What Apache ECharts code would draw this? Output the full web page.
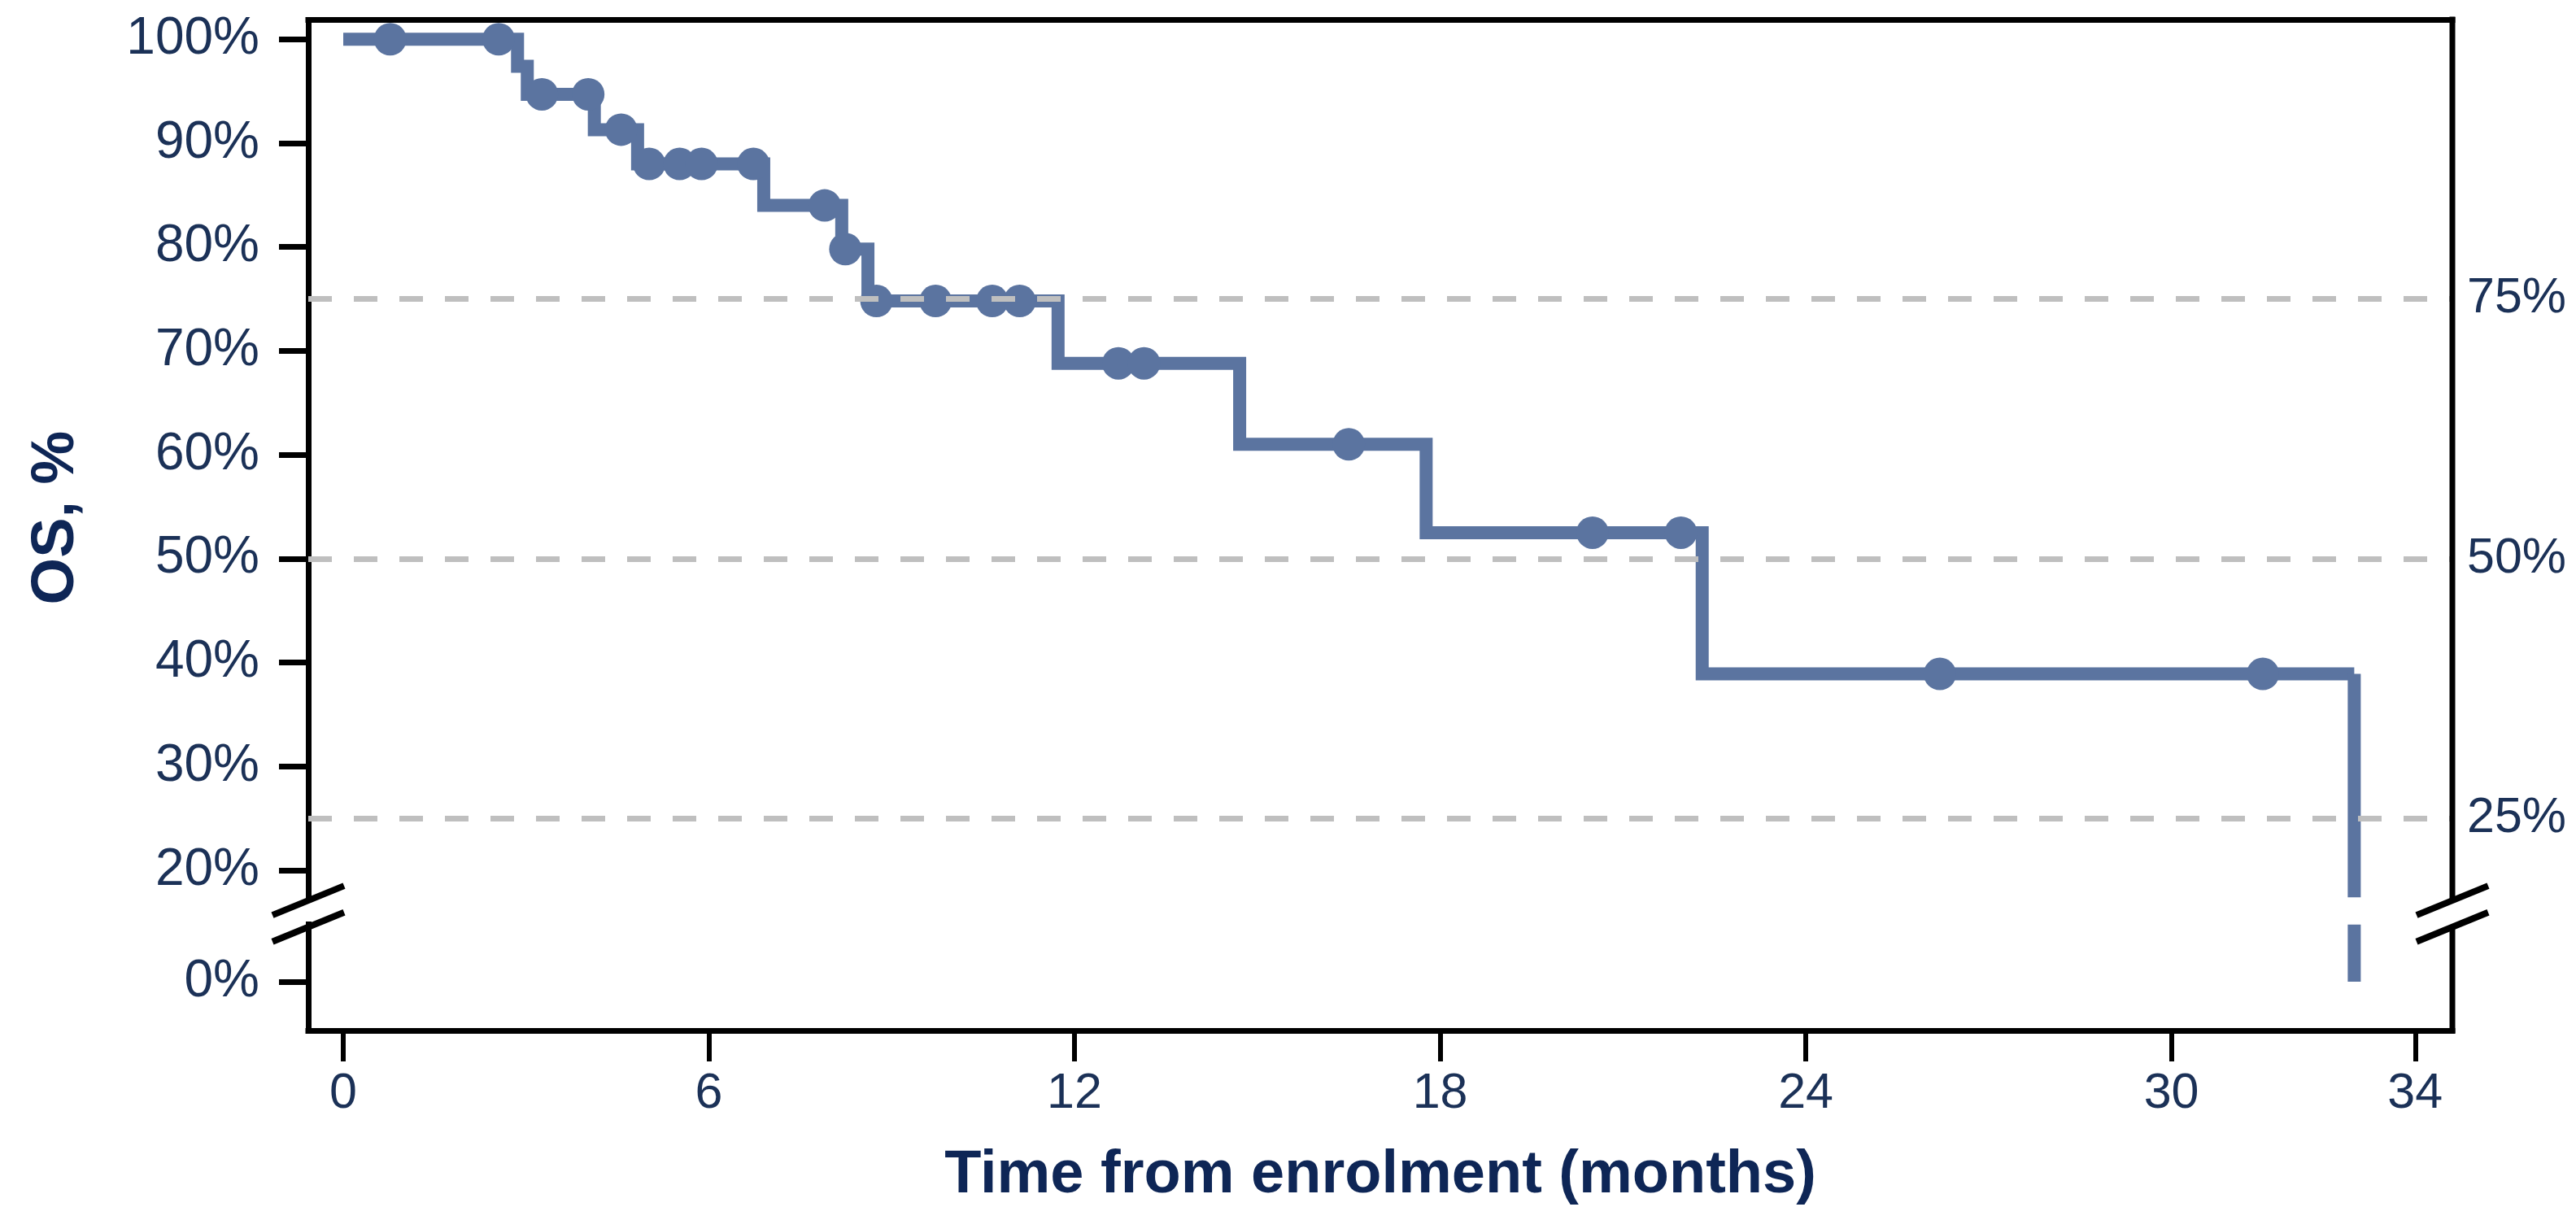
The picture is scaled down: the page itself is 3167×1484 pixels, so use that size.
<!DOCTYPE html>
<html>
<head>
<meta charset="utf-8">
<script src="https://cdn.jsdelivr.net/npm/echarts@6/dist/echarts.min.js"></script>
<style>
  html, body { margin: 0; padding: 0; background: #ffffff; }
  #chart { width: 3167px; height: 1484px; }
</style>
</head>
<body>
<div id="chart"></div>
<script>
// Kaplan–Meier estimate of overall survival: event times (months) and survival after each event (%)
const eventMonths = [0, 2.86, 3.02, 4.12, 4.83, 6.9, 8.18, 8.61, 11.73, 14.71, 17.77, 22.3, 33.0];
const survivalPct = [100, 97.4, 94.7, 91.3, 88.0, 84.0, 79.8, 74.8, 68.8, 61.0, 52.5, 38.9, 0];

// Censored patients (months, survival level at censoring)
const censorMonths = [0.77, 2.55, 3.26, 4.02, 4.56, 5.02, 5.52, 5.88, 6.73, 7.9, 8.24, 8.75, 9.72, 10.65, 11.1, 12.72, 13.14, 16.5, 20.5, 21.95, 26.2, 31.5];
const censorPct = [100, 100, 94.7, 94.7, 91.3, 88.0, 88.0, 88.0, 88.0, 84.0, 79.8, 74.8, 74.8, 74.8, 74.8, 68.8, 68.8, 61.0, 52.5, 52.5, 38.9, 38.9];

// Axis ticks and quartile reference lines
const xTicks = [0, 6, 12, 18, 24, 30, 34];
const yTicks = [0, 20, 30, 40, 50, 60, 70, 80, 90, 100];
const quartileLines = [25, 50, 75];

const X_MIN = -0.574, X_MAX = 34.61;
const Y_MIN = -4.7, Y_MAX = 101.9;
const Y_BREAK = { start: 5.5, end: 17.4, gap: '2.7%' };

const CURVE = '#5b74a0';
const TEXT = '#1b3157';
const TITLE = '#0e2656';
const FONT = '"Liberation Sans", Arial, Helvetica, sans-serif';

// Step curve: carry the last level to the final event; the final drop is drawn separately
const n = eventMonths.length;
const stepData = eventMonths.slice(0, n - 1).map((t, i) => [t, survivalPct[i]]);
stepData.push([eventMonths[n - 1], survivalPct[n - 2]]);
const lastT = eventMonths[n - 1];
const finalDrop = [
  [lastT, survivalPct[n - 2]], [lastT, Y_BREAK.end],
  [lastT, '-'],
  [lastT, Y_BREAK.start], [lastT, survivalPct[n - 1]]
];
const censorData = censorMonths.map((t, i) => [t, censorPct[i]]);

const chart = echarts.init(document.getElementById('chart'), null, { renderer: 'canvas' });

const blackLine = { color: '#000', width: 7, cap: 'square' };

const option = {
  backgroundColor: '#ffffff',
  animation: false,
  textStyle: { fontFamily: FONT },
  grid: { left: 379, right: 152, top: 24, bottom: 217, outerBoundsMode: 'none', containLabel: false },
  xAxis: [
    {
      type: 'value', min: X_MIN, max: X_MAX, position: 'bottom',
      name: 'Time from enrolment (months)', nameLocation: 'middle', nameGap: 142,
      nameTextStyle: { fontFamily: FONT, fontSize: 74, fontWeight: 'bold', color: TITLE },
      axisLine: { show: true, onZero: false, lineStyle: blackLine },
      axisTick: { show: true, inside: false, length: 38, customValues: xTicks, lineStyle: { color: '#000', width: 6 } },
      axisLabel: { show: true, customValues: xTicks, margin: 48, fontFamily: FONT, fontSize: 61, color: TEXT },
      splitLine: { show: false }
    },
    {
      type: 'value', min: X_MIN, max: X_MAX, position: 'top',
      axisLine: { show: true, onZero: false, lineStyle: blackLine },
      axisTick: { show: false }, axisLabel: { show: false }, splitLine: { show: false }
    }
  ],
  yAxis: [
    {
      type: 'value', min: Y_MIN, max: Y_MAX, position: 'left',
      breaks: [Y_BREAK], breakArea: { show: false },
      name: 'OS, %', nameLocation: 'middle', nameRotate: 90, nameGap: 272,
      nameTextStyle: { fontFamily: FONT, fontSize: 74, fontWeight: 'bold', color: TITLE, padding: [0, 0, 0, 18] },
      axisLine: { show: true, onZero: false, lineStyle: blackLine },
      axisTick: { show: true, inside: false, length: 36, customValues: yTicks, lineStyle: { color: '#000', width: 7 } },
      axisLabel: { show: true, customValues: yTicks, margin: 60, fontFamily: FONT, fontSize: 64, color: TEXT,
        formatter: v => v + '%' },
      splitLine: { show: false }
    },
    {
      type: 'value', min: Y_MIN, max: Y_MAX, position: 'right',
      breaks: [Y_BREAK], breakArea: { show: false },
      axisLine: { show: false },
      axisTick: { show: false },
      axisLabel: { show: true, customValues: quartileLines, margin: 18, fontFamily: FONT, fontSize: 61, color: TEXT,
        padding: [18, 0, 0, 0], formatter: v => v + '%' },
      splitLine: { show: false }
    }
  ],
  series: [
    {
      name: 'quartiles', type: 'line', data: [], xAxisIndex: 0, yAxisIndex: 0,
      markLine: {
        silent: true, symbol: 'none', label: { show: false },
        lineStyle: { color: '#bfbfbf', width: 7, type: [29, 27] },
        data: quartileLines.map(v => ({ yAxis: v }))
      },
      z: 1
    },
    {
      name: 'OS', type: 'line', step: 'end', data: stepData, showSymbol: false, symbol: 'none',
      lineStyle: { color: CURVE, width: 16, join: 'miter', cap: 'butt' }, z: 3
    },
    {
      name: 'OS final', type: 'line', data: finalDrop, showSymbol: false, symbol: 'none', connectNulls: false,
      lineStyle: { color: CURVE, width: 16, cap: 'butt' }, z: 3
    },
    {
      name: 'Censored', type: 'scatter', data: censorData, symbol: 'circle', symbolSize: 40,
      itemStyle: { color: CURVE, opacity: 1 }, z: 4
    }
  ]
};

chart.setOption(option);

// Frame on the right with its break, and the break marks on both vertical axes
function drawBreakMarks() {
  const px = v => chart.convertToPixel({ xAxisIndex: 0 }, v);
  const py = v => chart.convertToPixel({ yAxisIndex: 0 }, v);
  const left = px(X_MIN), right = px(X_MAX);
  const top = py(Y_MAX), bottom = py(Y_MIN);
  const yUpper = py(Y_BREAK.end) + 4;
  const yLower = py(Y_BREAK.start) + 3;
  const hx = 44, hy = 18;
  const stroke = { stroke: '#000', lineWidth: 8 };
  const slash = (x, y) => ({ type: 'line', z: 100, shape: { x1: x - hx, y1: y + hy, x2: x + hx, y2: y - hy }, style: stroke });
  chart.setOption({
    graphic: [
      { type: 'line', z: 100, shape: { x1: right, y1: top - 3.5, x2: right, y2: yUpper }, style: { stroke: '#000', lineWidth: 7 } },
      { type: 'line', z: 100, shape: { x1: right, y1: yLower, x2: right, y2: bottom + 3.5 }, style: { stroke: '#000', lineWidth: 7 } },
      slash(left, yUpper), slash(left, yLower),
      slash(right, yUpper), slash(right, yLower)
    ]
  });
}
drawBreakMarks();
</script>
</body>
</html>
